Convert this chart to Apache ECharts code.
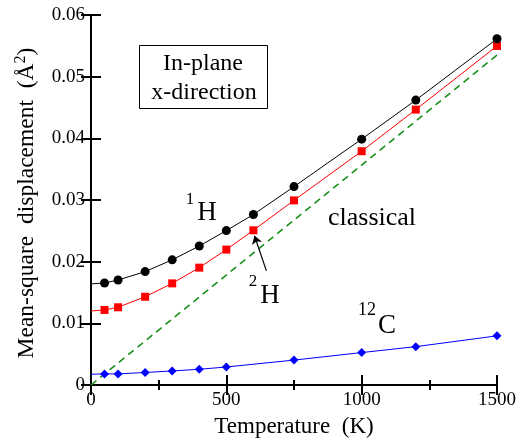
<!DOCTYPE html>
<html>
<head>
<meta charset="utf-8">
<script src="https://cdn.jsdelivr.net/npm/echarts@6/dist/echarts.min.js"></script>
<style>
  html, body { margin: 0; padding: 0; background: #fff; }
  #chart { width: 519px; height: 443px; }
</style>
</head>
<body>
<div id="chart"></div>
<script>
// Mean-square displacement (in-plane, x-direction) versus temperature
const temps1H  = [0, 50, 100, 200, 300, 400, 500, 600, 750, 1000, 1200, 1500];
const msd1H    = [0.0164, 0.01654, 0.01702, 0.01839, 0.0203, 0.02254, 0.02504, 0.02764, 0.03217, 0.03987, 0.0462, 0.05614];

const temps2H  = [0, 50, 100, 200, 300, 400, 500, 600, 750, 1000, 1200, 1500];
const msd2H    = [0.0120, 0.01217, 0.0126, 0.01431, 0.01648, 0.01903, 0.02196, 0.02509, 0.02994, 0.03791, 0.04466, 0.05498];

const temps12C = [0, 50, 100, 200, 300, 400, 500, 750, 1000, 1200, 1500];
const msd12C   = [0.00175, 0.0018, 0.0018, 0.00203, 0.00228, 0.00255, 0.00292, 0.00404, 0.00526, 0.00622, 0.00797];

const tempsClassical = [0, 1500];
const msdClassical   = [0, 0.0535];

const xTicks = [0, 500, 1000, 1500];
const yTicks = [0, 0.01, 0.02, 0.03, 0.04, 0.05, 0.06];

// the T = 0 entry only anchors the low-temperature end of each curve, no marker
function pairs(xs, ys) {
  return xs.map((x, i) => x === 0 ? { value: [x, ys[i]], symbol: 'none' } : [x, ys[i]]);
}

const serif = '"Liberation Serif", "Times New Roman", serif';

const chart = echarts.init(document.getElementById('chart'), null, { renderer: 'canvas' });

const axisLineStyle = { color: '#000', width: 2 };
const tickStyle = { width: 2, color: '#000' };

chart.setOption({
  animation: false,
  backgroundColor: '#fff',
  grid: { left: 91, right: 21, top: 15, bottom: 52, containLabel: false },
  xAxis: [
    {
      type: 'value', min: xTicks[0], max: xTicks[xTicks.length - 1], interval: 500,
      name: 'Temperature  (K)', nameLocation: 'middle', nameGap: 30,
      nameTextStyle: { fontFamily: serif, fontSize: 23, color: '#000' },
      axisLine: { show: true, lineStyle: axisLineStyle },
      axisTick: { inside: true, length: 10, lineStyle: tickStyle },
      minorTick: { show: true, splitNumber: 2, length: 5, lineStyle: tickStyle },
      axisLabel: { fontFamily: serif, fontSize: 19, color: '#000', margin: 6,
        formatter: v => String(v) },
      splitLine: { show: false }
    },
    {
      type: 'value', position: 'top', min: 0, max: 1500, interval: 500,
      axisLine: { show: true, lineStyle: axisLineStyle },
      axisTick: { inside: true, length: 10, lineStyle: tickStyle },
      minorTick: { show: true, splitNumber: 2, length: 5, lineStyle: tickStyle },
      axisLabel: { show: false },
      splitLine: { show: false }
    }
  ],
  yAxis: [
    {
      type: 'value', min: yTicks[0], max: yTicks[yTicks.length - 1], interval: 0.01,
      axisLine: { show: true, lineStyle: axisLineStyle },
      axisTick: { inside: true, length: 10, lineStyle: tickStyle },
      axisLabel: { fontFamily: serif, fontSize: 19, color: '#000', margin: 6,
        formatter: v => v === 0 ? '0' : v.toFixed(2) },
      splitLine: { show: false }
    },
    {
      type: 'value', position: 'right', min: 0, max: 0.06, interval: 0.01,
      axisLine: { show: true, lineStyle: axisLineStyle },
      axisTick: { inside: true, length: 10, lineStyle: tickStyle },
      axisLabel: { show: false },
      splitLine: { show: false }
    }
  ],
  series: [
    {
      name: 'classical', type: 'line', data: pairs(tempsClassical, msdClassical),
      showSymbol: false, symbol: 'none',
      lineStyle: { color: '#17901a', width: 1.6, type: [7, 5] },
      z: 2
    },
    {
      name: '12C', type: 'line', data: pairs(temps12C, msd12C),
      symbol: 'diamond', symbolSize: 9,
      itemStyle: { color: '#0000ff' },
      lineStyle: { color: '#0000ff', width: 1 },
      z: 3
    },
    {
      name: '2H', type: 'line', data: pairs(temps2H, msd2H),
      symbol: 'rect', symbolSize: 8,
      itemStyle: { color: '#ff0000' },
      lineStyle: { color: '#ff0000', width: 1 },
      z: 4,
      markLine: {
        silent: true, symbol: ['none', 'arrow'], symbolSize: 8,
        label: { show: false },
        lineStyle: { color: '#000', width: 1.2, type: 'solid' },
        data: [[ { coord: [648, 0.0185] }, { coord: [604, 0.0242] } ]]
      }
    },
    {
      name: '1H', type: 'line', data: pairs(temps1H, msd1H),
      symbol: 'circle', symbolSize: 9,
      itemStyle: { color: '#000' },
      lineStyle: { color: '#000', width: 1 },
      z: 5
    }
  ],
  graphic: [
    // vertical axis title, rotated, with a raised "2" on the unit
    { type: 'text', z: 11, x: 27, y: 203, rotation: Math.PI / 2,
      style: { text: '{t|Mean-square  displacement  (Å}{s|2}{t|)}', x: 0, y: 0,
        align: 'center', verticalAlign: 'middle',
        rich: {
          t: { fontFamily: serif, fontSize: 23.5, fill: '#000' },
          s: { fontFamily: serif, fontSize: 16, fill: '#000', verticalAlign: 'top', padding: [0, 0, 12, 0] }
        } } },

    { type: 'rect', shape: { x: 139.5, y: 45.5, width: 128, height: 63 },
      style: { fill: '#fff', stroke: '#000', lineWidth: 1 }, z: 10 },
    { type: 'text', z: 11, style: { text: 'In-plane', x: 203, y: 64, align: 'center', verticalAlign: 'middle',
      font: '24px ' + serif, fill: '#000' } },
    { type: 'text', z: 11, style: { text: 'x-direction', x: 204, y: 93, align: 'center', verticalAlign: 'middle',
      font: '24px ' + serif, fill: '#000' } },

    { type: 'text', z: 11, style: { text: '1', x: 190, y: 200, align: 'center', verticalAlign: 'middle',
      font: '17px ' + serif, fill: '#000' } },
    { type: 'text', z: 11, style: { text: 'H', x: 207, y: 213, align: 'center', verticalAlign: 'middle',
      font: '27px ' + serif, fill: '#000' } },

    { type: 'text', z: 11, style: { text: '2', x: 253, y: 282, align: 'center', verticalAlign: 'middle',
      font: '17px ' + serif, fill: '#000' } },
    { type: 'text', z: 11, style: { text: 'H', x: 270, y: 296, align: 'center', verticalAlign: 'middle',
      font: '27px ' + serif, fill: '#000' } },

    { type: 'text', z: 11, style: { text: 'classical', x: 328, y: 218, align: 'left', verticalAlign: 'middle',
      font: '26px ' + serif, fill: '#000' } },

    { type: 'text', z: 11, style: { text: '12', x: 367, y: 310, align: 'center', verticalAlign: 'middle',
      font: '18px ' + serif, fill: '#000' } },
    { type: 'text', z: 11, style: { text: 'C', x: 387, y: 326, align: 'center', verticalAlign: 'middle',
      font: '27px ' + serif, fill: '#000' } }
  ]
});
</script>
</body>
</html>
